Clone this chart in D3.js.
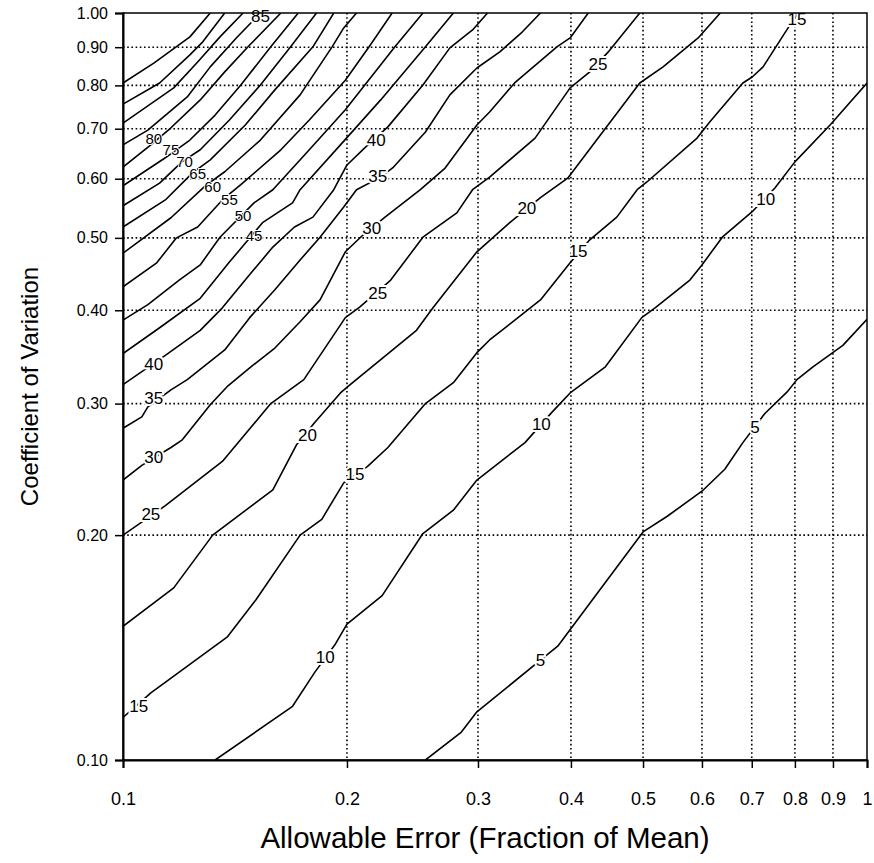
<!DOCTYPE html>
<html>
<head>
<meta charset="utf-8">
<script src="https://cdn.jsdelivr.net/npm/d3@7"></script>
<style>
  html, body { margin: 0; padding: 0; background: #fff; }
  svg { display: block; font-family: "Liberation Sans", Arial, Helvetica, sans-serif; }
</style>
</head>
<body>
<svg id="chart" width="874" height="863"></svg>
<script>
// Axis ticks
const xTicks = [0.1, 0.2, 0.3, 0.4, 0.5, 0.6, 0.7, 0.8, 0.9, 1];
const xTickLabels = ["0.1", "0.2", "0.3", "0.4", "0.5", "0.6", "0.7", "0.8", "0.9", "1"];
const yTicks = [0.1, 0.2, 0.3, 0.4, 0.5, 0.6, 0.7, 0.8, 0.9, 1.0];
const yTickLabels = ["0.10", "0.20", "0.30", "0.40", "0.50", "0.60", "0.70", "0.80", "0.90", "1.00"];
const gridValues = [0.2, 0.3, 0.4, 0.5, 0.6, 0.7, 0.8, 0.9];

// Sample-size contours: each point is [allowable error, coefficient of variation]
const contour5 = [[0.255,0.100],[0.285,0.109],[0.299,0.116],[0.364,0.136],[0.384,0.142],[0.500,0.202],[0.539,0.212],[0.600,0.229],[0.644,0.245],[0.681,0.266],[0.729,0.291],[0.781,0.311],[0.805,0.323],[0.846,0.336],[0.928,0.359],[1.000,0.389]];
const contour10 = [[0.133,0.100],[0.169,0.118],[0.181,0.131],[0.193,0.143],[0.200,0.152],[0.223,0.166],[0.253,0.201],[0.278,0.216],[0.299,0.237],[0.347,0.266],[0.377,0.292],[0.399,0.310],[0.445,0.336],[0.498,0.391],[0.519,0.403],[0.578,0.439],[0.600,0.460],[0.639,0.501],[0.701,0.542],[0.752,0.583],[0.800,0.632],[0.892,0.708],[1.000,0.806]];
const contour15 = [[0.100,0.114],[0.109,0.123],[0.138,0.146],[0.151,0.164],[0.173,0.200],[0.185,0.210],[0.198,0.235],[0.213,0.247],[0.227,0.262],[0.255,0.300],[0.278,0.320],[0.299,0.351],[0.311,0.365],[0.364,0.413],[0.399,0.463],[0.424,0.497],[0.461,0.533],[0.491,0.580],[0.506,0.594],[0.591,0.680],[0.615,0.715],[0.681,0.806],[0.701,0.821],[0.725,0.847],[0.788,0.964],[0.808,1.000]];
const contour20 = [[0.100,0.151],[0.117,0.170],[0.132,0.200],[0.159,0.230],[0.171,0.264],[0.181,0.283],[0.196,0.310],[0.202,0.318],[0.248,0.376],[0.261,0.403],[0.299,0.479],[0.331,0.524],[0.364,0.566],[0.396,0.601],[0.495,0.806],[0.532,0.847],[0.593,0.926],[0.635,1.000]];
const contour25 = [[0.100,0.200],[0.114,0.219],[0.136,0.251],[0.158,0.300],[0.175,0.323],[0.199,0.391],[0.208,0.404],[0.229,0.439],[0.253,0.501],[0.281,0.540],[0.295,0.580],[0.311,0.603],[0.358,0.680],[0.399,0.794],[0.424,0.834],[0.449,0.887],[0.495,1.000]];
const contour30 = [[0.100,0.237],[0.106,0.248],[0.116,0.262],[0.120,0.268],[0.131,0.299],[0.138,0.316],[0.148,0.335],[0.160,0.356],[0.173,0.386],[0.184,0.413],[0.199,0.479],[0.210,0.504],[0.225,0.533],[0.251,0.580],[0.271,0.620],[0.299,0.708],[0.311,0.737],[0.336,0.806],[0.383,0.901],[0.399,0.926],[0.422,1.000]];
const contour35 = [[0.100,0.278],[0.106,0.288],[0.108,0.297],[0.116,0.313],[0.122,0.323],[0.137,0.354],[0.148,0.391],[0.160,0.426],[0.173,0.467],[0.184,0.501],[0.198,0.550],[0.206,0.580],[0.222,0.603],[0.231,0.622],[0.255,0.693],[0.275,0.777],[0.299,0.844],[0.321,0.887],[0.344,0.943],[0.364,1.000]];
const contour40 = [[0.100,0.318],[0.114,0.348],[0.127,0.376],[0.136,0.403],[0.147,0.443],[0.159,0.486],[0.170,0.517],[0.180,0.533],[0.192,0.580],[0.200,0.626],[0.212,0.662],[0.227,0.704],[0.253,0.801],[0.275,0.898],[0.295,0.949],[0.309,1.000]];
const contour45 = [[0.100,0.350],[0.112,0.379],[0.127,0.415],[0.139,0.464],[0.154,0.524],[0.169,0.557],[0.173,0.580],[0.196,0.666],[0.222,0.765],[0.255,0.901],[0.278,1.000]];
const contour50 = [[0.100,0.388],[0.108,0.407],[0.119,0.439],[0.127,0.460],[0.135,0.501],[0.150,0.557],[0.159,0.580],[0.178,0.656],[0.199,0.742],[0.232,0.901],[0.253,1.000]];
const contour55 = [[0.100,0.430],[0.111,0.463],[0.118,0.500],[0.126,0.517],[0.136,0.562],[0.144,0.589],[0.163,0.656],[0.178,0.719],[0.199,0.813],[0.215,0.906],[0.230,1.000]];
const contour60 = [[0.100,0.477],[0.116,0.532],[0.129,0.587],[0.137,0.613],[0.153,0.676],[0.173,0.777],[0.191,0.901],[0.198,0.955],[0.206,1.000]];
const contour65 = [[0.100,0.517],[0.114,0.562],[0.124,0.611],[0.131,0.636],[0.146,0.708],[0.160,0.789],[0.180,0.901],[0.192,1.000]];
const contour70 = [[0.100,0.552],[0.112,0.592],[0.120,0.632],[0.127,0.656],[0.139,0.719],[0.153,0.801],[0.168,0.901],[0.182,1.000]];
const contour75 = [[0.100,0.587],[0.114,0.640],[0.123,0.676],[0.133,0.730],[0.144,0.801],[0.158,0.901],[0.172,1.000]];
const contour80 = [[0.100,0.622],[0.109,0.666],[0.116,0.702],[0.127,0.765],[0.137,0.834],[0.148,0.906],[0.163,1.000]];
const contour85 = [[0.100,0.666],[0.108,0.697],[0.122,0.772],[0.131,0.847],[0.142,0.926],[0.153,1.000]];
const contour90 = [[0.100,0.712],[0.117,0.794],[0.126,0.860],[0.135,0.929],[0.145,1.000]];
const contour95 = [[0.100,0.755],[0.112,0.806],[0.123,0.879],[0.128,0.915],[0.137,1.000]];
const contour100 = [[0.100,0.806],[0.110,0.857],[0.123,0.929],[0.131,1.000]];

const contourLevels = [5, 10, 15, 20, 25, 30, 35, 40, 45, 50, 55, 60, 65, 70, 75, 80, 85, 90, 95, 100];
const contourLines = [contour5, contour10, contour15, contour20, contour25, contour30, contour35, contour40, contour45, contour50,
                      contour55, contour60, contour65, contour70, contour75, contour80, contour85, contour90, contour95, contour100];

// Inline level labels along the sparse contours: [level, allowable error, coefficient of variation]
const contourLabels = [
  [85, 0.153, 0.988],
  [40, 0.219, 0.676], [35, 0.220, 0.605], [30, 0.216, 0.515], [25, 0.220, 0.421],
  [40, 0.110, 0.338], [35, 0.110, 0.305], [30, 0.110, 0.254], [25, 0.109, 0.213], [15, 0.105, 0.118],
  [20, 0.177, 0.272], [15, 0.205, 0.241], [10, 0.187, 0.137], [5, 0.364, 0.136],
  [10, 0.365, 0.281], [5, 0.707, 0.279], [20, 0.349, 0.548], [15, 0.409, 0.479],
  [25, 0.435, 0.852], [10, 0.731, 0.562], [15, 0.805, 0.979]
];
// Labels in the crowded upper-left band, set a little smaller
const crowdedLabels = [
  [80, 0.110, 0.680], [75, 0.116, 0.657], [70, 0.121, 0.632], [65, 0.126, 0.609],
  [60, 0.132, 0.586], [55, 0.139, 0.562], [50, 0.145, 0.535], [45, 0.150, 0.503]
];

const xTitle = "Allowable Error (Fraction of Mean)";
const yTitle = "Coefficient of Variation";

const svg = d3.select("#chart");
const plotLeft = 123, plotRight = 867, plotTop = 13, plotBottom = 760;

const x = d3.scaleLog().domain([0.1, 1]).range([plotLeft, plotRight]);
const y = d3.scaleLog().domain([0.1, 1]).range([plotBottom, plotTop]);

svg.append("defs").append("clipPath").attr("id", "plotClip")
  .append("rect").attr("x", plotLeft).attr("y", plotTop)
  .attr("width", plotRight - plotLeft).attr("height", plotBottom - plotTop);

// Dotted grid
const grid = svg.append("g").attr("stroke", "#000").attr("stroke-width", 1.6)
  .attr("stroke-dasharray", "1.6,2.6").attr("fill", "none");
grid.selectAll("line.gx").data(gridValues).join("line").attr("class", "gx")
  .attr("x1", d => x(d)).attr("x2", d => x(d)).attr("y1", plotTop).attr("y2", plotBottom);
grid.selectAll("line.gy").data(gridValues).join("line").attr("class", "gy")
  .attr("y1", d => y(d)).attr("y2", d => y(d)).attr("x1", plotLeft).attr("x2", plotRight);

// Contour lines
const line = d3.line().x(d => x(d[0])).y(d => y(d[1]));
svg.append("g").attr("clip-path", "url(#plotClip)")
  .selectAll("path").data(contourLines).join("path")
  .attr("d", line).attr("fill", "none").attr("stroke", "#000").attr("stroke-width", 1.6)
  .attr("stroke-linejoin", "round");

// Level labels with a white knock-out behind the digits
svg.append("g").selectAll("text").data(contourLabels).join("text")
  .attr("x", d => x(d[1])).attr("y", d => y(d[2]))
  .attr("text-anchor", "middle").attr("dominant-baseline", "central")
  .attr("font-size", 17).attr("fill", "#000")
  .attr("stroke", "#fff").attr("stroke-width", 4).attr("paint-order", "stroke")
  .text(d => d[0]);

svg.append("g").selectAll("text").data(crowdedLabels).join("text")
  .attr("x", d => x(d[1])).attr("y", d => y(d[2]))
  .attr("text-anchor", "middle").attr("dominant-baseline", "central")
  .attr("font-size", 15).attr("fill", "#000")
  .attr("stroke", "#fff").attr("stroke-width", 2).attr("paint-order", "stroke")
  .text(d => d[0]);

// Frame
svg.append("rect").attr("x", plotLeft).attr("y", plotTop)
  .attr("width", plotRight - plotLeft).attr("height", plotBottom - plotTop)
  .attr("fill", "none").attr("stroke", "#000").attr("stroke-width", 1.5);

// Axes
const xAxis = d3.axisBottom(x).tickValues(xTicks).tickFormat((d, i) => xTickLabels[i])
  .tickSizeOuter(0).tickSize(8).tickPadding(24);
const yAxis = d3.axisLeft(y).tickValues(yTicks).tickFormat((d, i) => yTickLabels[i])
  .tickSizeOuter(0).tickSize(8).tickPadding(7);

const gx = svg.append("g").attr("transform", `translate(0,${plotBottom})`).call(xAxis);
const gy = svg.append("g").attr("transform", `translate(${plotLeft},0)`).call(yAxis);
gx.attr("font-size", 18);
gy.attr("font-size", 16);
[gx, gy].forEach(g => {
  g.attr("font-family", '"Liberation Sans", Arial, Helvetica, sans-serif');
  g.select(".domain").attr("stroke", "#000").attr("stroke-width", 2);
  g.selectAll(".tick line").attr("stroke", "#000").attr("stroke-width", 1.5);
  g.selectAll(".tick text").attr("fill", "#000");
});

// Axis titles
svg.append("text").attr("x", 485).attr("y", 848)
  .attr("text-anchor", "middle").attr("font-size", 29.5).attr("fill", "#000").text(xTitle);
svg.append("text").attr("transform", `translate(38,${(plotTop + plotBottom) / 2}) rotate(-90)`)
  .attr("text-anchor", "middle").attr("font-size", 24).attr("fill", "#000").text(yTitle);
</script>
</body>
</html>
